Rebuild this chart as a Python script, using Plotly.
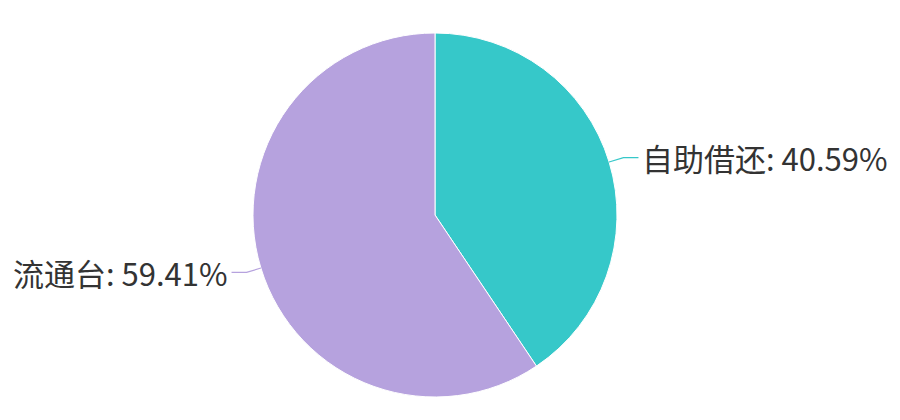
import math
import plotly.graph_objects as go

labels = ["自助借还", "流通台"]
values = [40.59, 59.41]
colors = ["#36c8c9", "#b6a2de"]

W, H = 900, 420
cx, cy, r = 435, 215, 182
len1, len2 = 15, 15

fig = go.Figure(go.Pie(
    labels=labels, values=values, sort=False, direction="clockwise", rotation=0,
    marker=dict(colors=colors, line=dict(color="#ffffff", width=1)),
    textinfo="none", hoverinfo="label+percent", showlegend=False,
    domain=dict(x=[(cx - r) / W, (cx + r) / W], y=[(H - cy - r) / H, (H - cy + r) / H]),
))

def px(x, y):
    return x / W, 1 - y / H

total = sum(values)
cum = 0.0
shapes, annotations = [], []
for lab, v, c in zip(labels, values, colors):
    mid = (cum + v / 2) / total * 2 * math.pi
    cum += v
    sx, sy = math.sin(mid), -math.cos(mid)
    x0, y0 = cx + r * sx, cy + r * sy
    x1, y1 = cx + (r + len1) * sx, cy + (r + len1) * sy
    d = 1 if sx >= 0 else -1
    x2, y2 = x1 + d * len2, y1
    p0, p1, p2 = px(x0, y0), px(x1, y1), px(x2, y2)
    shapes.append(dict(type="path", xref="paper", yref="paper",
                       path=f"M{p0[0]},{p0[1]} L{p1[0]},{p1[1]} L{p2[0]},{p2[1]}",
                       line=dict(color=c, width=1.2)))
    pct = v / total * 100
    annotations.append(dict(x=p2[0] + d * 2 / W, y=p2[1], xref="paper", yref="paper",
                            text=f"{lab}: {pct:.2f}%", showarrow=False,
                            xanchor="left" if d > 0 else "right", yanchor="middle",
                            font=dict(size=31, color="#333333",
                                      family="Noto Sans CJK SC, Noto Sans, sans-serif")))

fig.update_layout(width=W, height=H, margin=dict(l=0, r=0, t=0, b=0),
                  paper_bgcolor="#ffffff", plot_bgcolor="#ffffff",
                  shapes=shapes, annotations=annotations)
fig.write_html("out.html", config={"displayModeBar": False},
               post_script="document.body.style.margin='0';")
